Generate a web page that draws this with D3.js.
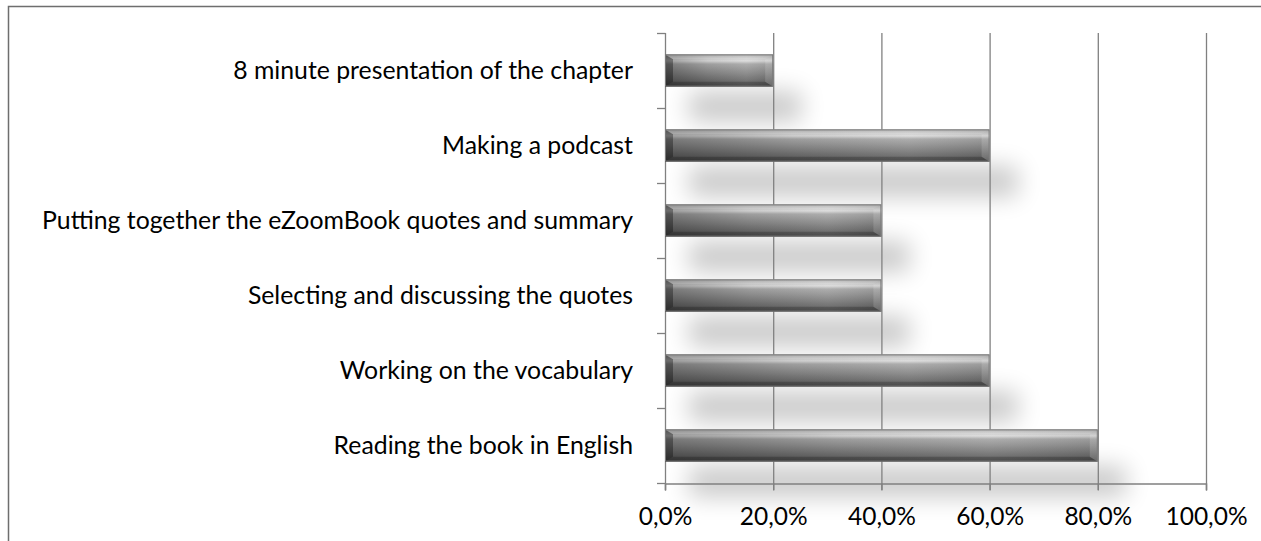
<!DOCTYPE html>
<html>
<head>
<meta charset="utf-8">
<script src="https://cdn.jsdelivr.net/npm/d3@7"></script>
<style>
  body { margin: 0; background: #fff; }
  svg { display: block; }
</style>
</head>
<body>
<div id="chart_container"></div>
<script>
// categories top to bottom, values in percent
var categories = ['8 minute presentation of the chapter', 'Making a podcast', 'Putting together the eZoomBook quotes and summary', 'Selecting and discussing the quotes', 'Working on the vocabulary', 'Reading the book in English']
var values = [20, 60, 40, 40, 60, 80]
var x_ticks = [0, 20, 40, 60, 80, 100]

var total_width = 1261, total_height = 541
var margin = {top: 33, right: 55, bottom: 58, left: 665},
    width = 541,
    height = total_height - margin.top - margin.bottom

var svg_root = d3.select("#chart_container")
                    .append("svg")
                    .attr("width", total_width)
                    .attr("height", total_height)

// outer frame (only left and top edges are visible in the picture)
svg_root.append("rect")
    .attr("x", 8.5).attr("y", 6.5)
    .attr("width", 1400).attr("height", 700)
    .attr("fill", "none")
    .attr("stroke", "#6e6e6e")
    .attr("stroke-width", 1.5)

var defs = svg_root.append("defs")

// bar body gradient
var grad = defs.append("linearGradient").attr("id", "bar_grad")
    .attr("x1", 0).attr("y1", 0).attr("x2", 0).attr("y2", 1)
var stops = [[0, "#a0a0a0"], [0.12, "#c8c8c8"], [0.2, "#dcdcdc"], [0.3, "#a8a8a8"], [0.6, "#858585"], [1, "#555555"]]
stops.forEach(function(s){ grad.append("stop").attr("offset", s[0]).attr("stop-color", s[1]) })

// darker at the left of the bar
var hgrad = defs.append("linearGradient").attr("id", "bar_hgrad")
    .attr("x1", 0).attr("y1", 0).attr("x2", 1).attr("y2", 0)
hgrad.append("stop").attr("offset", 0).attr("stop-color", "#000").attr("stop-opacity", 0.28)
hgrad.append("stop").attr("offset", 0.4).attr("stop-color", "#000").attr("stop-opacity", 0.06)
hgrad.append("stop").attr("offset", 0.75).attr("stop-color", "#fff").attr("stop-opacity", 0.06)
hgrad.append("stop").attr("offset", 1).attr("stop-color", "#000").attr("stop-opacity", 0.08)

var blur = defs.append("filter").attr("id", "shadow_blur")
    .attr("x", "-50%").attr("y", "-300%").attr("width", "200%").attr("height", "700%")
blur.append("feGaussianBlur").attr("stdDeviation", 12)

var svg = svg_root.append("g")
    .attr("transform", "translate(" + margin.left + "," + margin.top + ")")

var x = d3.scaleLinear().domain([0, 100]).range([0, width])

var y = d3.scaleBand()
            .domain(categories)
            .range([0, height])
            .paddingInner(0.57)
            .paddingOuter(0.285)

// shadows under the bars
svg.selectAll(".shadow")
    .data(categories)
    .enter()
    .append("rect")
        .attr("x", x(0) + 24)
        .attr("y", function(d){ return y(d) + y.bandwidth()/2 + 21 })
        .attr("width", function(d, i){ return x(values[i]) + 4 })
        .attr("height", 30)
        .attr("fill", "#000")
        .attr("opacity", 0.21)
        .attr("filter", "url(#shadow_blur)")

// vertical gridlines with the small ticks below the axis
svg.selectAll(".grid")
    .data(x_ticks.slice(1))
    .enter()
    .append("line")
        .attr("x1", function(d){ return x(d) + 0.5 })
        .attr("x2", function(d){ return x(d) + 0.5 })
        .attr("y1", 0)
        .attr("y2", height + 7)
        .attr("stroke", "#808080")
        .attr("stroke-width", 1.3)

// x axis
var x_axis = svg.append("g")
    .attr("transform", "translate(0," + (height + 0.5) + ")")
    .call(d3.axisBottom(x).tickValues(x_ticks).tickSize(7).tickPadding(17)
            .tickFormat(function(d){ return d.toFixed(1).replace(".", ",") + "%" }))
x_axis.select(".domain").attr("stroke", "#808080").attr("stroke-width", 1.3)
x_axis.selectAll(".tick line").attr("stroke", "#808080").attr("stroke-width", 1.3)
x_axis.selectAll("text")
    .attr("font-family", "Lato, 'Open Sans', sans-serif")
    .attr("font-size", "24.5px")
    .attr("fill", "#000")

// y axis: ticks between the categories
var left_axis = svg.append("g")
left_axis.append("line")
    .attr("x1", 0.5).attr("x2", 0.5)
    .attr("y1", 0).attr("y2", height + 7)
    .attr("stroke", "#808080").attr("stroke-width", 1.3)
var band_edges = d3.range(categories.length + 1).map(function(i){ return i * height / categories.length })
left_axis.selectAll(".ytick")
    .data(band_edges)
    .enter()
    .append("line")
        .attr("x1", -8).attr("x2", 0.5)
        .attr("y1", function(d){ return d + 0.5 })
        .attr("y2", function(d){ return d + 0.5 })
        .attr("stroke", "#808080").attr("stroke-width", 1.3)

left_axis.selectAll(".ylabel")
    .data(categories)
    .enter()
    .append("text")
        .attr("x", -32)
        .attr("y", function(d){ return y(d) + y.bandwidth()/2 })
        .attr("dy", "0.36em")
        .attr("text-anchor", "end")
        .attr("font-family", "Lato, 'Open Sans', sans-serif")
        .attr("font-size", "24.8px")
        .attr("fill", "#000")
        .text(function(d){ return d })

// bars
var bars = svg.selectAll(".bar")
    .data(categories)
    .enter()
    .append("g")

bars.append("rect")
    .attr("x", x(0))
    .attr("y", function(d){ return y(d) })
    .attr("width", function(d, i){ return x(values[i]) - x(0) })
    .attr("height", y.bandwidth())
    .attr("fill", "url(#bar_grad)")

bars.append("rect")
    .attr("x", x(0))
    .attr("y", function(d){ return y(d) })
    .attr("width", function(d, i){ return x(values[i]) - x(0) })
    .attr("height", y.bandwidth())
    .attr("fill", "url(#bar_hgrad)")

// bevelled edges, like a picture frame
var bevel = 8
function bevel_path(d, i, side){
    var y0 = y(d), y1 = y(d) + y.bandwidth(), x0 = x(0), x1 = x(values[i])
    if(side == "top") return "M" + x0 + "," + y0 + "L" + x1 + "," + y0 + "L" + (x1 - bevel) + "," + (y0 + bevel * 0.6) + "L" + (x0 + bevel) + "," + (y0 + bevel * 0.6) + "Z"
    if(side == "bottom") return "M" + x0 + "," + y1 + "L" + x1 + "," + y1 + "L" + (x1 - bevel) + "," + (y1 - bevel * 0.6) + "L" + (x0 + bevel) + "," + (y1 - bevel * 0.6) + "Z"
    if(side == "left") return "M" + x0 + "," + y0 + "L" + (x0 + bevel) + "," + (y0 + bevel * 0.6) + "L" + (x0 + bevel) + "," + (y1 - bevel * 0.6) + "L" + x0 + "," + y1 + "Z"
    return "M" + x1 + "," + y0 + "L" + (x1 - bevel) + "," + (y0 + bevel * 0.6) + "L" + (x1 - bevel) + "," + (y1 - bevel * 0.6) + "L" + x1 + "," + y1 + "Z"
}
var bevel_styles = [["top", "#fff", 0.18], ["bottom", "#000", 0.2], ["left", "#000", 0.32], ["right", "#fff", 0.14]]
bevel_styles.forEach(function(b){
    bars.append("path")
        .attr("d", function(d, i){ return bevel_path(d, i, b[0]) })
        .attr("fill", b[1]).attr("opacity", b[2])
})

bars.append("rect")
    .attr("x", x(0) + 0.5)
    .attr("y", function(d){ return y(d) + 0.5 })
    .attr("width", function(d, i){ return x(values[i]) - x(0) - 1 })
    .attr("height", y.bandwidth() - 1)
    .attr("fill", "none")
    .attr("stroke", "#7a7a7a")
    .attr("stroke-width", 1)
</script>
</body>
</html>
